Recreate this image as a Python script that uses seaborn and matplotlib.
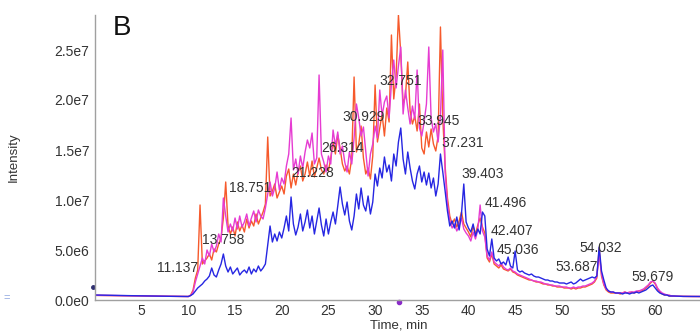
import numpy as np
import pandas as pd
import matplotlib
matplotlib.use('Agg')
import matplotlib.pyplot as plt
import seaborn as sns

# retention time grid (min): coarse before 10 and after 62, 0.25 min in between
time_min = np.concatenate([np.arange(0, 10, 1.0), np.arange(10, 62, 0.25), np.arange(62, 66, 1.0)])

# intensities in units of 1e6, one row per minute (t, t+.25, t+.5, t+.75)
orange = [0.46, 0.45, 0.44, 0.43, 0.42, 0.41, 0.40, 0.38, 0.37, 0.36] + [
    0.35, 0.5, 1.0, 2.2,      # 10
    3.0, 9.5, 3.6, 3.9,       # 11
    4.2, 4.6, 4.0, 5.1,       # 12
    4.8, 5.6, 6.2, 8.2,       # 13
    11.8, 7.4, 6.6, 7.3,      # 14
    6.4, 7.8, 6.9, 7.5,       # 15
    6.8, 8.1, 7.2, 7.9,       # 16
    7.4, 8.6, 7.6, 8.2,       # 17
    8.8, 9.6, 16.3, 10.4,     # 18
    10.9, 11.6, 10.2, 10.8,   # 19
    11.4, 10.6, 12.4, 13.1,   # 20
    11.2, 12.6, 11.5, 12.8,   # 21
    13.4, 11.9, 12.6, 13.8,   # 22
    12.4, 13.9, 12.3, 13.2,   # 23
    14.2, 13.0, 12.6, 13.5,   # 24
    12.9, 14.2, 15.8, 14.6,   # 25
    16.5, 15.2, 13.6, 12.9,   # 26
    13.4, 12.6, 14.2, 22.3,   # 27
    14.8, 15.6, 17.4, 14.2,   # 28
    12.6, 13.2, 12.1, 14.4,   # 29
    21.5, 15.8, 17.2, 18.6,   # 30
    16.4, 19.2, 17.8, 26.5,   # 31
    20.1, 22.4, 28.5, 24.6,   # 32
    19.6, 20.4, 23.8, 18.9,   # 33
    17.6, 18.4, 16.9, 19.6,   # 34
    15.2, 14.6, 16.8, 15.3,   # 35
    17.1, 15.6, 14.9, 16.4,   # 36
    27.3, 18.2, 13.4, 10.2,   # 37
    8.4, 7.6, 8.1, 7.3,       # 38
    7.9, 8.8, 7.6, 7.2,       # 39
    6.8, 6.3, 7.4, 6.6,       # 40
    7.5, 8.2, 7.3, 6.7,       # 41
    4.2, 3.8, 4.6, 3.6,       # 42
    3.4, 3.2, 3.5, 3.1,       # 43
    3.0, 2.9, 3.1, 2.8,       # 44
    2.7, 2.5, 2.4, 2.3,       # 45
    2.2, 2.1, 2.0, 2.0,       # 46
    1.9, 1.8, 1.8, 1.7,       # 47
    1.6, 1.6, 1.5, 1.5,       # 48
    1.4, 1.4, 1.3, 1.3,       # 49
    1.3, 1.2, 1.2, 1.2,       # 50
    1.1, 1.2, 1.1, 1.2,       # 51
    1.2, 1.3, 1.3, 1.4,       # 52
    1.5, 1.6, 1.8, 2.2,       # 53
    5.2, 2.4, 1.5, 1.0,       # 54
    0.8, 0.7, 0.7, 0.7,       # 55
    0.7, 0.6, 0.7, 0.8,       # 56
    0.7, 0.7, 0.8, 0.7,       # 57
    0.8, 0.9, 0.9, 1.0,       # 58
    1.2, 1.4, 1.7, 1.9,       # 59
    1.6, 1.1, 0.8, 0.6,       # 60
    0.5, 0.5, 0.4, 0.4,       # 61
] + [0.38, 0.36, 0.35, 0.35]

magenta = [0.47, 0.46, 0.45, 0.44, 0.43, 0.41, 0.40, 0.38, 0.37, 0.36] + [
    0.35, 0.45, 0.8, 1.8,     # 10
    2.6, 3.4, 4.2, 3.6,       # 11
    5.0, 4.4, 5.6, 4.8,       # 12
    5.4, 6.6, 5.8, 10.2,      # 13
    8.4, 6.8, 7.6, 6.9,       # 14
    8.2, 7.1, 8.4, 7.3,       # 15
    7.8, 8.6, 7.4, 8.2,       # 16
    8.9, 7.8, 9.0, 8.4,       # 17
    8.1, 9.2, 10.6, 11.8,     # 18
    10.4, 11.2, 12.8, 11.0,   # 19
    12.2, 11.6, 13.4, 14.6,   # 20
    18.2, 13.0, 14.1, 12.6,   # 21
    14.4, 13.2, 14.8, 16.0,   # 22
    15.2, 16.7, 13.6, 14.2,   # 23
    22.5, 14.6, 13.8, 12.8,   # 24
    14.4, 13.6, 17.0, 15.4,   # 25
    16.8, 14.6, 15.4, 13.8,   # 26
    12.8, 14.8, 13.6, 16.2,   # 27
    19.6, 18.2, 16.4, 17.3,   # 28
    14.8, 12.4, 14.6, 15.6,   # 29
    17.4, 16.2, 21.0, 18.4,   # 30
    19.8, 20.4, 18.2, 21.6,   # 31
    24.0, 21.2, 23.4, 25.3,   # 32
    18.6, 21.0, 19.2, 17.6,   # 33
    19.4, 18.1, 23.0, 17.2,   # 34
    16.4, 17.8, 19.6, 25.3,   # 35
    18.2, 16.8, 17.6, 15.8,   # 36
    18.4, 25.0, 12.8, 9.6,    # 37
    8.0, 7.2, 7.6, 6.9,       # 38
    7.4, 8.2, 7.1, 6.7,       # 39
    6.4, 5.9, 6.8, 6.1,       # 40
    7.0, 9.5, 6.9, 6.3,       # 41
    4.4, 4.0, 4.8, 3.8,       # 42
    3.6, 3.4, 3.7, 3.3,       # 43
    3.1, 3.0, 3.2, 2.9,       # 44
    2.8, 2.6, 2.5, 2.4,       # 45
    2.3, 2.2, 2.1, 2.0,       # 46
    1.9, 1.9, 1.8, 1.8,       # 47
    1.7, 1.6, 1.6, 1.5,       # 48
    1.5, 1.4, 1.4, 1.4,       # 49
    1.3, 1.3, 1.3, 1.2,       # 50
    1.2, 1.3, 1.2, 1.3,       # 51
    1.3, 1.4, 1.4, 1.5,       # 52
    1.6, 1.7, 1.9, 2.4,       # 53
    4.6, 2.6, 1.6, 1.1,       # 54
    0.9, 0.8, 0.8, 0.7,       # 55
    0.7, 0.7, 0.7, 0.8,       # 56
    0.7, 0.8, 0.8, 0.8,       # 57
    0.9, 0.9, 1.0, 1.1,       # 58
    1.3, 1.5, 1.8, 1.9,       # 59
    1.7, 1.2, 0.9, 0.7,       # 60
    0.6, 0.5, 0.5, 0.4,       # 61
] + [0.39, 0.36, 0.35, 0.35]

blue = [0.50, 0.48, 0.46, 0.45, 0.43, 0.42, 0.40, 0.38, 0.37, 0.36] + [
    0.35, 0.45, 0.6, 0.9,     # 10
    1.2, 1.4, 1.6, 1.9,       # 11
    2.1, 2.4, 3.2, 2.5,       # 12
    2.3, 3.0, 3.6, 4.6,       # 13
    3.4, 2.8, 3.3, 2.6,       # 14
    2.9, 3.2, 2.5, 2.8,       # 15
    3.0, 2.7, 3.3, 2.6,       # 16
    3.1, 2.8, 3.4, 2.9,       # 17
    3.2, 3.6, 5.5, 7.4,       # 18
    5.8, 6.6, 5.9, 6.8,       # 19
    6.2, 7.2, 8.4, 6.9,       # 20
    10.3, 7.6, 6.5, 7.3,      # 21
    8.6, 6.9, 7.8, 9.0,       # 22
    7.2, 8.4, 6.6, 7.9,       # 23
    9.2, 7.5, 6.4, 8.1,       # 24
    6.6, 7.8, 8.8, 7.6,       # 25
    9.4, 11.3, 9.6, 8.5,      # 26
    9.8, 7.9, 7.0, 8.4,       # 27
    10.6, 9.1, 11.2, 9.5,     # 28
    8.9, 10.4, 8.6, 9.8,      # 29
    12.6, 11.4, 13.2, 12.2,   # 30
    14.3, 12.8, 13.5, 11.9,   # 31
    14.6, 13.4, 15.8, 17.2,   # 32
    14.1, 12.6, 14.8, 13.2,   # 33
    11.9, 11.1, 12.6, 13.4,   # 34
    11.8, 12.8, 11.5, 12.7,   # 35
    11.2, 12.2, 10.4, 11.6,   # 36
    14.6, 12.8, 10.9, 8.9,    # 37
    7.4, 7.9, 7.2, 8.3,       # 38
    7.0, 8.6, 11.6, 7.8,      # 39
    7.2, 6.8, 7.6, 6.4,       # 40
    7.1, 6.6, 8.8, 8.4,       # 41
    5.1, 4.4, 6.1, 4.2,       # 42
    3.9, 4.1, 3.6, 3.8,       # 43
    3.5, 4.3, 3.4, 3.2,       # 44
    4.9, 3.0, 2.8, 2.9,       # 45
    2.7, 2.6, 2.5, 2.6,       # 46
    2.4, 2.3, 2.3, 2.2,       # 47
    2.1, 2.0, 2.0, 1.9,       # 48
    1.9, 1.8, 1.8, 1.7,       # 49
    1.7, 1.7, 1.6, 1.7,       # 50
    1.8, 1.6, 1.7, 1.9,       # 51
    2.1, 1.9, 2.0, 2.1,       # 52
    2.2, 2.3, 2.2, 2.4,       # 53
    5.3, 2.9, 2.0, 1.2,       # 54
    0.9, 0.8, 0.8, 0.7,       # 55
    0.7, 0.7, 0.6, 0.7,       # 56
    0.7, 0.6, 0.7, 0.7,       # 57
    0.8, 0.7, 0.8, 0.9,       # 58
    1.0, 1.2, 1.4, 1.5,       # 59
    1.2, 0.9, 0.7, 0.6,       # 60
    0.5, 0.5, 0.4, 0.4,       # 61
] + [0.40, 0.36, 0.35, 0.35]

# peak annotations
peak_labels = ['11.137', '13.758', '18.751', '21.228', '26.314', '30.929', '32.751', '33.945',
               '37.231', '39.403', '41.496', '42.407', '45.036', '53.687', '54.032', '59.679']
label_x = [8.80, 13.78, 16.57, 23.27, 26.48, 28.79, 32.75, 36.83,
           39.40, 41.54, 44.01, 44.70, 45.24, 51.57, 54.19, 59.71]
label_y = [3.2, 6.0, 11.2, 12.7, 15.2, 18.3, 21.9, 17.9,
           15.7, 12.6, 9.7, 6.9, 5.0, 3.3, 5.2, 2.3]

x_ticks = [5, 10, 15, 20, 25, 30, 35, 40, 45, 50, 55, 60]
y_ticks = [0, 5e6, 1e7, 1.5e7, 2e7, 2.5e7]
y_tick_labels = ['0.0e0', '5.0e6', '1.0e7', '1.5e7', '2.0e7', '2.5e7']

df = pd.DataFrame({
    'time': np.tile(time_min, 3),
    'intensity': np.concatenate([orange, magenta, blue]) * 1e6,
    'trace': np.repeat(['orange', 'magenta', 'blue'], len(time_min)),
})

sns.set_style('white')
plt.rcParams['font.family'] = ['Liberation Sans', 'DejaVu Sans']

fig = plt.figure(figsize=(7, 3.35), dpi=100)
ax = fig.add_axes([95 / 700, 35 / 335, 605 / 700, 285 / 335])

palette = {'orange': '#f65a2c', 'magenta': '#e63cd2', 'blue': '#2626e2'}
sns.lineplot(data=df, x='time', y='intensity', hue='trace', palette=palette,
             estimator=None, sort=False, lw=1.0, legend=False, ax=ax)

ax.set_xlim(0, 64.8)
ax.set_ylim(0, 2.85e7)
ax.set_xticks(x_ticks)
ax.set_xticklabels([str(t) for t in x_ticks])
ax.set_yticks(y_ticks)
ax.set_yticklabels(y_tick_labels)
ax.tick_params(length=0, labelsize=10, colors='#333333')
ax.tick_params(axis='x', pad=3)
ax.tick_params(axis='y', pad=4)

for side in ['top', 'right']:
    ax.spines[side].set_visible(False)
for side in ['left', 'bottom']:
    ax.spines[side].set_color('#a0a0a0')
    ax.spines[side].set_linewidth(1.0)

ax.set_xlabel('Time, min', fontsize=9.5, color='#333333')
ax.set_ylabel('Intensity', fontsize=9.5, color='#333333')
ax.xaxis.set_label_coords(0.502, -0.068)
ax.yaxis.set_label_coords(-0.124, 0.5)

for txt, lx, ly in zip(peak_labels, label_x, label_y):
    ax.text(lx, ly * 1e6, txt, fontsize=10, color='#333333', ha='center', va='center')

# small markers on the axes
ax.plot(-0.25, 1.3e6, 'o', ms=2.5, color='#303070', clip_on=False)
ax.plot(32.6, -0.2e6, 'o', ms=3, color='#8a2ac8', clip_on=False)

fig.text(122 / 700, 1 - 28 / 335, 'B', fontsize=20, ha='center', va='center', color='#111111')
fig.text(7 / 700, 1 - 298 / 335, '=', fontsize=8, ha='center', va='center', color='#8fa6e0')

plt.savefig('out.png', dpi=100)
